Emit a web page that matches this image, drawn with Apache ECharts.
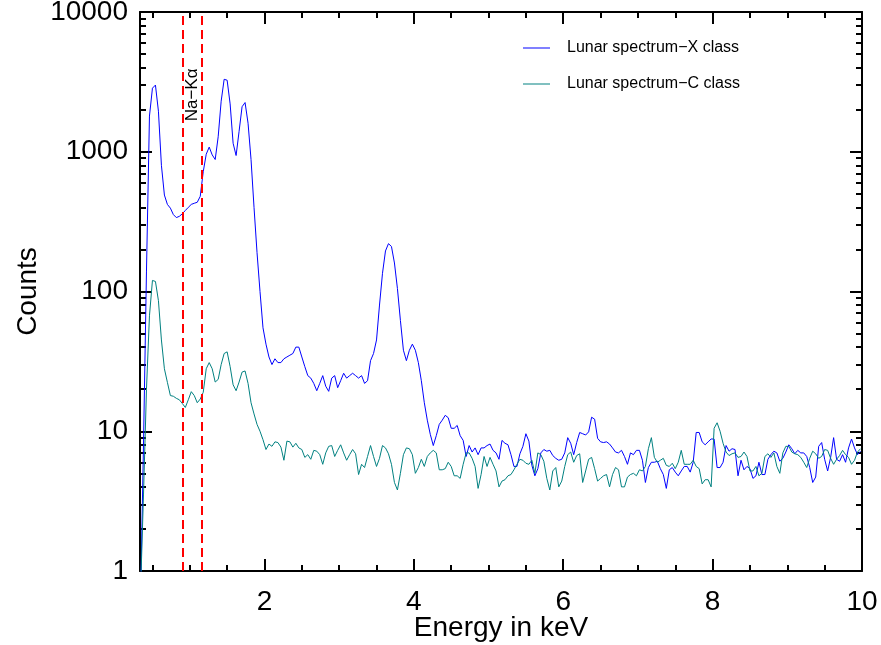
<!DOCTYPE html>
<html><head><meta charset="utf-8">
<script src="https://cdn.jsdelivr.net/npm/echarts@6/dist/echarts.min.js"></script>
<style>html,body{margin:0;padding:0;background:#fff}#c{width:881px;height:645px}</style>
</head><body><div id="c"></div>
<script>
// Energy grid (keV): bins start at 0.34 keV, 0.04 keV apart
const energyStart = 0.34;
const energyStep = 0.04;

// Lunar spectrum - X class (counts), one value per energy bin
const xClassCounts = [
  0.6, 8, 140, 1800, 2850, 3000, 1950, 800, 490, 420,
  395, 355, 338, 345, 360, 380, 400, 420, 428, 435,
  480, 720, 960, 1080, 950, 880, 1280, 2300, 3300, 3250,
  2200, 1150, 940, 1400, 2100, 2250, 1600, 880, 400, 190,
  100, 55, 42, 34, 30, 33, 31, 31, 33, 34,
  35, 36, 40, 40, 34, 29, 25, 24, 22, 19.5,
  22, 25, 21, 19.3, 24, 25, 20.5, 23, 26, 24,
  25, 26, 25, 24, 25, 22, 23, 32, 36, 45,
  80, 135, 195, 220, 210, 160, 105, 62, 38, 32,
  38, 42, 38, 31, 23, 16, 12, 9.5, 7.9, 9.3,
  11.2, 12, 13, 12.5, 10.5, 10.5, 11, 9.3, 8.6, 6.6,
  7.9, 7.1, 7.6, 6.8, 7.6, 7.6, 7.9, 8.1, 7.3, 7.0,
  6.3, 8.6, 8.2, 8, 6.8, 5.6, 5.6, 6.9, 7.8, 9.6,
  8.5, 5.7, 4.8, 5.4, 7.0, 7.4, 7.2, 7.3, 6.7, 6.4,
  6.2, 6.3, 7, 9.0, 8.2, 6.8, 8.3, 9.8, 9.6, 9.4,
  9.9, 12.6, 12.2, 8.9, 8.4, 8.3, 8.4, 8.1, 7.6, 7.1,
  7.0, 7.3, 6.6, 5.8, 7.0, 6.8, 7.3, 7.3, 6.2, 4.3,
  5.5, 6.0, 6.0, 6.1, 5.4, 4.9, 3.9, 5.3, 5.5, 5.1,
  4.8, 5.2, 5.6, 5.6, 5.1, 6, 9.8, 9.8, 8.4, 8.0,
  8.4, 8.8, 8.8, 5.5, 5.5, 6.0, 7.9, 7.2, 7.5, 7.4,
  4.8, 6.2, 5.3, 5.6, 5.4, 4.6, 4.8, 6.0, 4.9, 4.9,
  6.3, 6.8, 7.2, 7.0, 6.1, 6.4, 7.1, 8.0, 7.5, 6.9,
  7.3, 7.0, 7.0, 6.6, 5.5, 4.3, 4.7, 7.8, 8.3, 6.3,
  5.2, 6.5, 9.0, 6.3, 6.1, 6.8, 6.0, 7.6, 8.8, 7.6,
  6.8, 7.2
];

// Lunar spectrum - C class (counts)
const cClassCounts = [
  0.7, 3.5, 20, 67, 120, 118, 86, 45, 28, 22.4,
  18, 17.8, 17.2, 16.8, 15.8, 14.8, 16.8, 19.2, 18, 16,
  17, 19, 28, 31, 28, 22.5, 23.5, 30, 36, 37,
  29, 21.5, 19.5, 22.5, 26.5, 27, 22, 16, 13.3, 11.2,
  10, 8.7, 7.4, 8.1, 7.8, 8.4, 8.3, 7.7, 6.2, 8.5,
  8.4, 7.7, 8.2, 7.6, 7.4, 6.5, 6.8, 6.3, 7.3, 7.2,
  6.8, 5.8, 7.0, 7.8, 7.9, 6.6, 7.3, 8.0, 7.0, 6.2,
  6.8, 7.4, 6.9, 4.9, 5.8, 5.5, 6.6, 7.9, 6.6, 5.6,
  6.4, 7.9, 7.6, 6.9, 5.8, 4.3, 3.8, 5.0, 6.8, 7.6,
  7.5, 6.8, 5.0, 5.5, 6.3, 5.6, 6.6, 7.0, 7.3, 7.0,
  5.3, 5.3, 5.4, 6.0, 5.6, 4.8, 4.8, 4.6, 5.8, 7.0,
  7.0, 6.4, 5.6, 3.9, 4.9, 6.6, 5.6, 6.5, 5.8, 5.2,
  4.0, 4.4, 4.5, 4.8, 4.9, 5.3, 5.8, 6.3, 6.2, 5.9,
  5.8, 6.2, 5.0, 7.0, 6.8, 6.1, 4.6, 3.8, 5.2, 5.5,
  4.0, 4.4, 5.6, 6.8, 7.1, 6.0, 6.7, 6.9, 4.3, 5.2,
  6.3, 6.5, 5.4, 4.4, 4.6, 4.8, 4.9, 4.0, 4.9, 5.5,
  5.3, 4.0, 4.0, 4.7, 4.9, 5.0, 4.8, 5.3, 5.2, 5.6,
  7.5, 9.0, 6.5, 6.0, 6.2, 6.4, 5.7, 5.6, 5.9, 5.4,
  6.0, 7.3, 5.8, 5.8, 5.8, 6.2, 5.6, 5.4, 4.2, 4.5,
  4.5, 4.0, 10.5, 11.5, 10, 8.2, 7.1, 6.7, 6.9, 7.0,
  6.5, 6.6, 7.1, 6.6, 5.2, 5.2, 5.6, 4.8, 5.0, 6.6,
  6.9, 6.5, 7.0, 5.6, 5.0, 7.0, 7.8, 7.8, 7.1, 6.9,
  6.8, 6.5, 6.0, 5.5, 6.4, 7.2, 6.9, 6.4, 6.6, 7.4,
  7.3, 6.4, 5.8, 6.3, 6.7, 7.3, 6.8, 6.5, 5.8, 6.2,
  7.1, 7.5
];

const seriesNames = ['Lunar spectrum\u2212X class', 'Lunar spectrum\u2212C class'];
const naWindow = [0.907, 1.16];        // dashed red lines (keV)
const naLabelPos = [1.04, 2550];       // Na-K alpha label anchor (keV, counts)
const naLabel = 'Na\u2212K\u03b1';

const xRange = [0.3333, 10];
const yRange = [1, 10000];
const xMajorTicks = [2, 4, 6, 8];
const xLabelValues = [2, 4, 6, 8, 10];
const xMinorTicks = [0.5, 1, 1.5, 2.5, 3, 3.5, 4.5, 5, 5.5, 6.5, 7, 7.5, 8.5, 9, 9.5];
const yMinorTicks = [2,3,4,5,6,7,8,9, 20,30,40,50,60,70,80,90, 200,300,400,500,600,700,800,900, 2000,3000,4000,5000,6000,7000,8000,9000];

const energies = xClassCounts.map((_, i) => +(energyStart + i * energyStep).toFixed(2));
const xData = energies.map((e, i) => [e, xClassCounts[i]]);
const cData = energies.map((e, i) => [e, cClassCounts[i]]);

const FONT = 'Liberation Sans, Arial, Helvetica, sans-serif';
const axisLineStyle = { color: '#000', width: 2 };

function xAx(pos, major, withLabels, showLine) {
  return {
    type: 'value', position: pos, min: xRange[0], max: xRange[1],
    axisLine: { show: showLine, onZero: false, lineStyle: axisLineStyle },
    axisTick: { show: true, inside: true, length: major ? 12 : 6,
      customValues: major ? xMajorTicks : xMinorTicks, lineStyle: { color: '#000', width: 2 } },
    axisLabel: withLabels ? { show: true, customValues: xLabelValues, fontSize: 28, color: '#000',
      fontFamily: FONT, margin: 17, formatter: v => String(v) } : { show: false },
    splitLine: { show: false },
    name: withLabels ? 'Energy in keV' : '', nameLocation: 'middle', nameGap: 43, nameMoveOverlap: false,
    nameTextStyle: { fontSize: 28, color: '#000', fontFamily: FONT }
  };
}
function yLogAx(pos, withLabels) {
  return {
    type: 'log', logBase: 10, position: pos, min: yRange[0], max: yRange[1],
    axisLine: { show: true, onZero: false, lineStyle: axisLineStyle },
    axisTick: { show: true, inside: true, length: 12, lineStyle: { color: '#000', width: 2 } },
    axisLabel: withLabels ? { show: true, fontSize: 28, color: '#000', fontFamily: FONT, margin: 12,
      formatter: v => String(Math.round(v)) } : { show: false },
    splitLine: { show: false }, minorTick: { show: false },
    name: withLabels ? 'Counts' : '', nameLocation: 'middle', nameGap: 98, nameMoveOverlap: false,
    nameTextStyle: { fontSize: 28, color: '#000', fontFamily: FONT }
  };
}
function yMinorAx(pos) {
  return {
    type: 'value', position: pos, min: 0, max: 4,
    axisLine: { show: false },
    axisTick: { show: true, inside: true, length: 6,
      customValues: yMinorTicks.map(v => Math.log10(v)), lineStyle: { color: '#000', width: 2 } },
    axisLabel: { show: false }, splitLine: { show: false }
  };
}

const chart = echarts.init(document.getElementById('c'), null, { renderer: 'canvas' });
chart.setOption({
  animation: false,
  backgroundColor: '#fff',
  grid: { left: 140, right: 19, top: 12, bottom: 74, containLabel: false, outerBoundsMode: 'none' },
  legend: {
    data: seriesNames, orient: 'vertical', left: 523, top: 39, padding: 0,
    icon: 'rect', itemWidth: 27, itemHeight: 1, itemGap: 18,
    textStyle: { fontSize: 16, color: '#000', fontFamily: FONT, lineHeight: 18, padding: [0, 0, 0, 12] }
  },
  xAxis: [xAx('bottom', true, true, true), xAx('bottom', false, false, false),
          xAx('top', true, false, true), xAx('top', false, false, false)],
  yAxis: [yLogAx('left', true), yMinorAx('left'), yLogAx('right', false), yMinorAx('right')],
  series: [
    {
      name: seriesNames[0], type: 'line', xAxisIndex: 0, yAxisIndex: 0,
      data: xData, showSymbol: false, symbol: 'none', smooth: false,
      lineStyle: { color: '#0000ff', width: 1 }, itemStyle: { color: '#0000ff' },
      markLine: {
        silent: true, symbol: ['none', 'none'], animation: false,
        label: { show: false },
        lineStyle: { color: '#ff0000', width: 2, type: [9, 5] },
        data: [ { xAxis: naWindow[0] }, { xAxis: naWindow[1] } ]
      },
      markPoint: {
        silent: true, animation: false, symbol: 'rect', symbolSize: 0,
        itemStyle: { color: 'rgba(0,0,0,0)' },
        data: [{ coord: naLabelPos,
          label: { show: true, formatter: naLabel, position: 'inside', rotate: 90,
            fontSize: 17, color: '#000', fontFamily: FONT } }]
      }
    },
    {
      name: seriesNames[1], type: 'line', xAxisIndex: 0, yAxisIndex: 0,
      data: cData, showSymbol: false, symbol: 'none', smooth: false,
      lineStyle: { color: '#008080', width: 1 }, itemStyle: { color: '#008080' }
    }
  ]
});
</script></body></html>
